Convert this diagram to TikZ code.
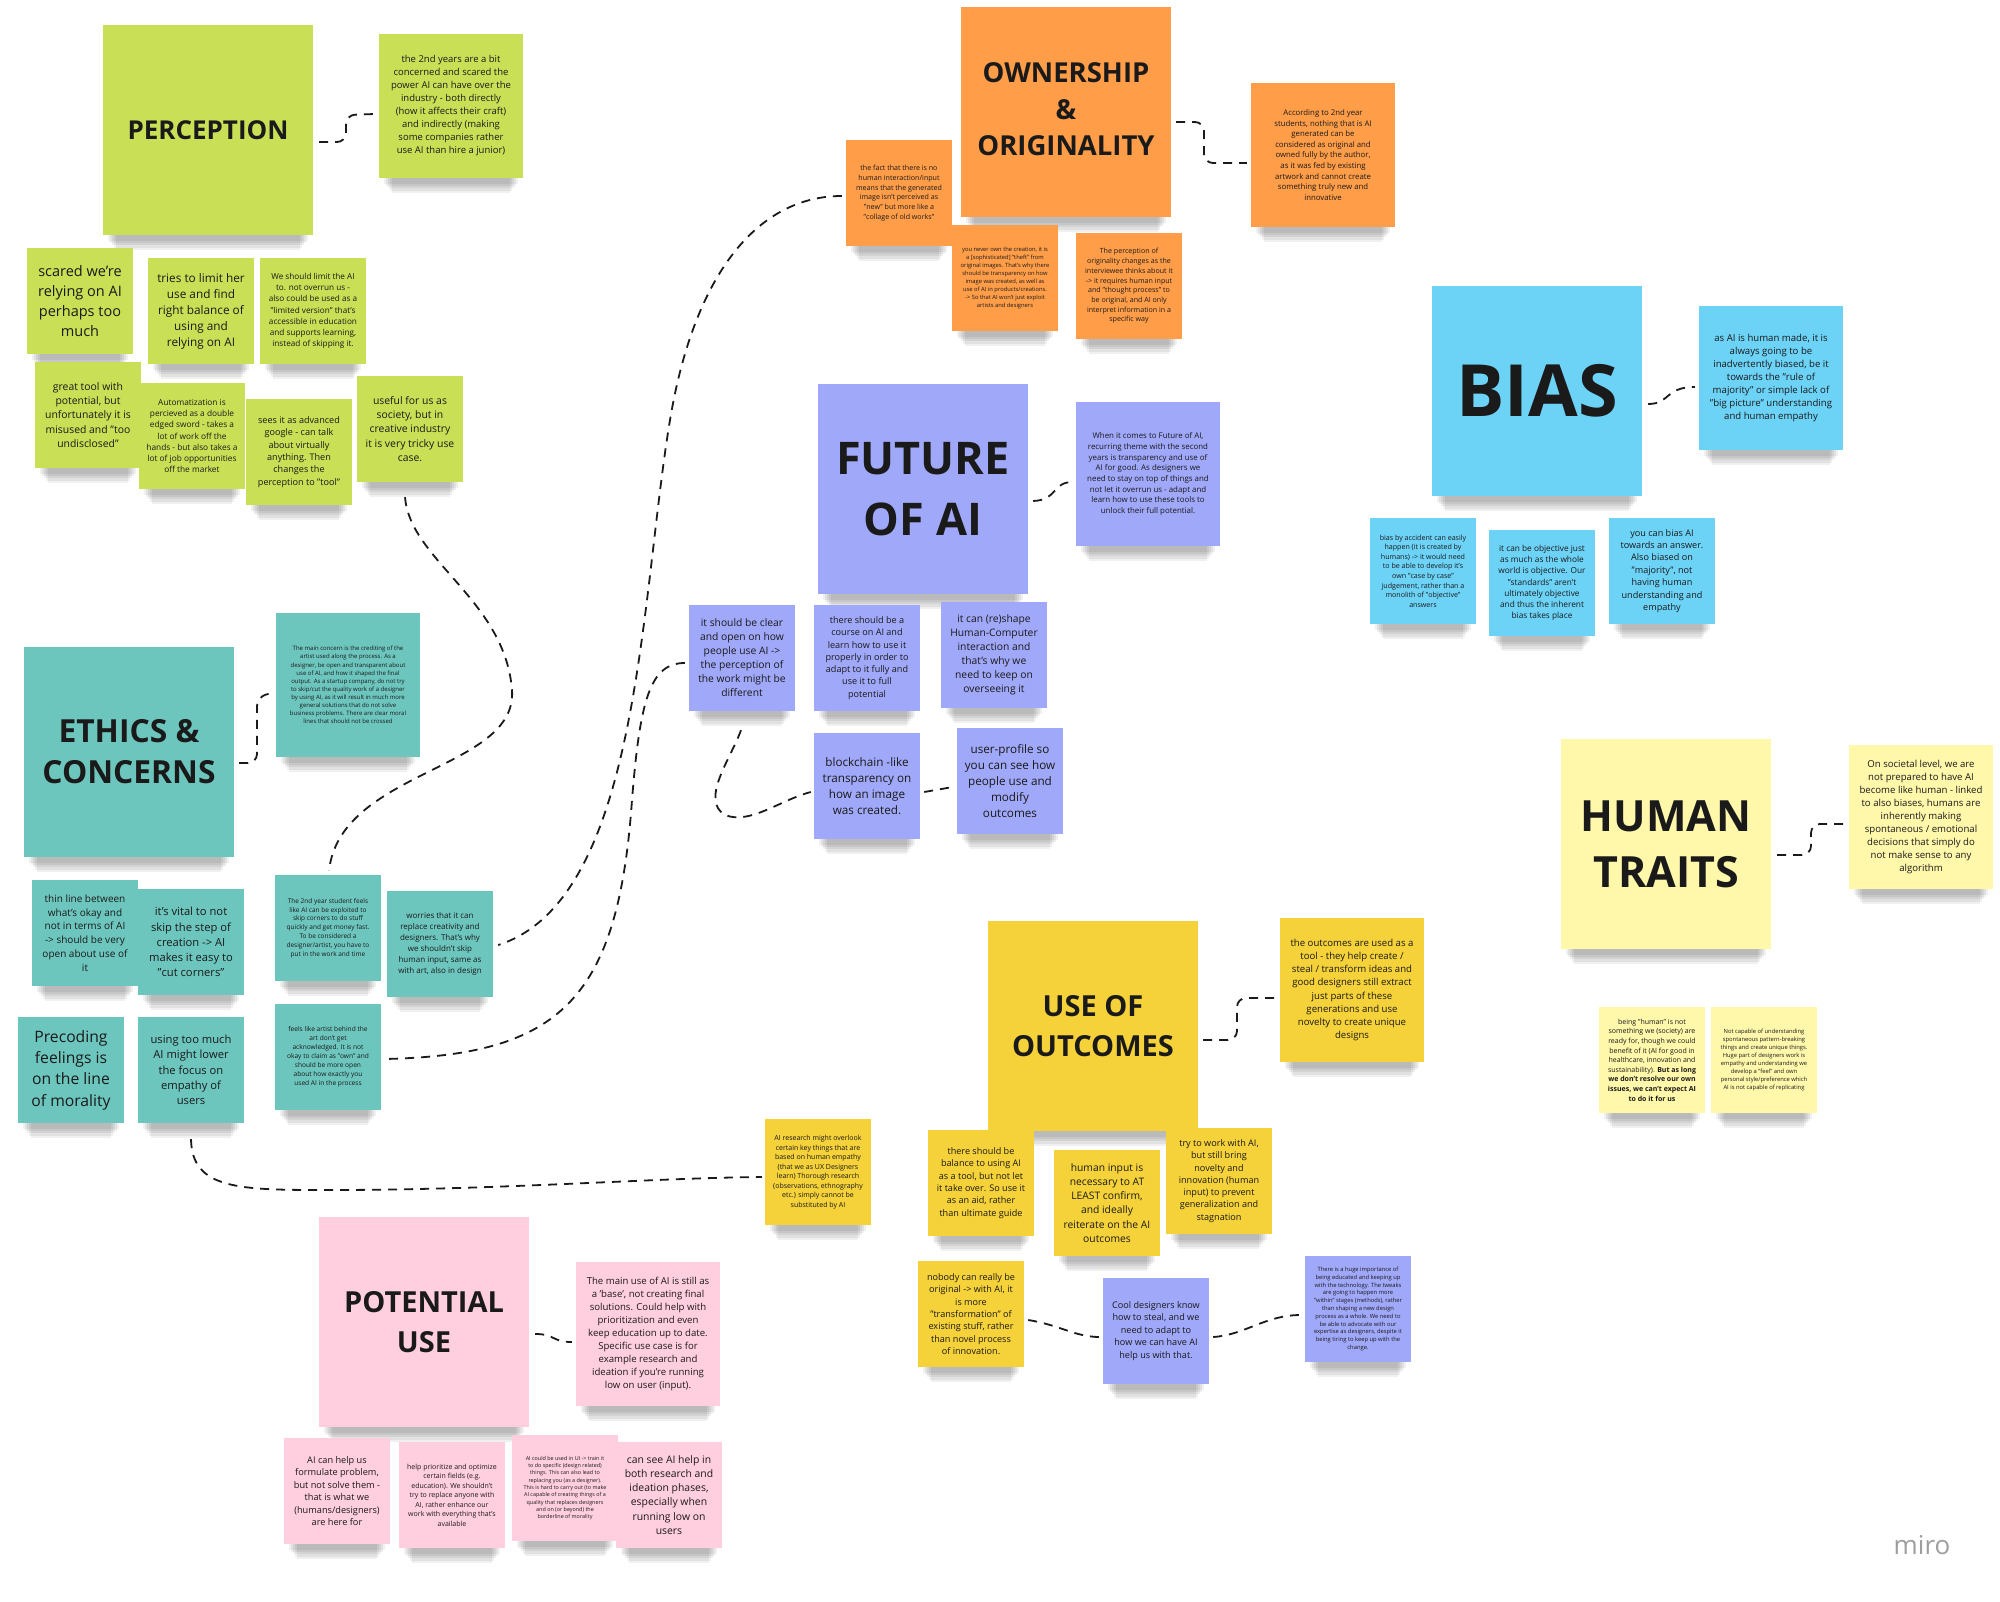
\documentclass[tikz,border=0pt]{standalone}
\usepackage{fontspec}
\setmainfont{Open Sans}
\usetikzlibrary{calc}
\definecolor{ink}{HTML}{1A1A1A}
\definecolor{clime}{HTML}{C9DF56}
\definecolor{cteal}{HTML}{6DC6BE}
\definecolor{corange}{HTML}{FF9D48}
\definecolor{cperi}{HTML}{A0A8F9}
\definecolor{ccyan}{HTML}{6CD2F6}
\definecolor{clyellow}{HTML}{FFF7AA}
\definecolor{cyellow}{HTML}{F5D13A}
\definecolor{cpink}{HTML}{FFCEDF}
\newcommand{\setfs}[2]{\fontsize{#1}{#2}\selectfont}
\pgfdeclarelayer{shadowlayer}
\pgfsetlayers{shadowlayer,main}
\begin{document}
\begin{tikzpicture}[x=1pt,y=-1pt,
  note/.style={fill=#1, inner sep=0pt, align=center, text=ink},
  hnote/.style={minimum width=210pt, minimum height=210pt},
  mnote/.style={minimum width=144pt, minimum height=144pt},
  snote/.style={minimum width=106pt, minimum height=106pt},
  conn/.style={draw=ink, line width=1.8pt, dash pattern=on 9pt off 7pt},
  stepconn/.style={conn, rounded corners=9pt},
]
\begin{pgfonlayer}{shadowlayer}
\fill[white] (0,0) rectangle (2000,1602);
\end{pgfonlayer}
\useasboundingbox (0,0) rectangle (2000,1602);

% ---------------- PERCEPTION ----------------
\node[note=clime, hnote, font={\bfseries\setfs{26}{34}}] (phead) at (208,130) {PERCEPTION};
\node[note=clime, mnote, font={\setfs{9.5}{13}}] (pdesc) at (451,106) {the 2nd years are a bit\\concerned and scared the\\power AI can have over the\\industry - both directly\\(how it affects their craft)\\and indirectly (making\\some companies rather\\use AI than hire a junior)};
\node[note=clime, snote, font={\setfs{14.5}{20}}] (pa) at (80,301) {scared we're\\relying on AI\\perhaps too\\much};
\node[note=clime, snote, font={\setfs{11.8}{16}}] (pb) at (201,311) {tries to limit her\\use and find\\right balance of\\using and\\relying on AI};
\node[note=clime, snote, font={\setfs{8.2}{11.2}}] (pc) at (313,311) {We should limit the AI\\to. not overrun us -\\also could be used as a\\"limited version" that's\\accessible in education\\and supports learning,\\instead of skipping it.};
\node[note=clime, snote, font={\setfs{10.4}{14.2}}] (pd) at (88,415) {great tool with\\potential, but\\unfortunately it is\\misused and "too\\undisclosed"};
\node[note=clime, snote, font={\setfs{8.3}{11.3}}] (pe) at (192,436) {Automatization is\\percieved as a double\\edged sword - takes a\\lot of work off the\\hands - but also takes a\\lot of job opportunities\\off the market};
\node[note=clime, snote, font={\setfs{9.1}{12.3}}] (pf) at (299,452) {sees it as advanced\\google - can talk\\about virtually\\anything. Then\\changes the\\perception to "tool"};
\node[note=clime, snote, font={\setfs{10.4}{14.2}}] (pg) at (410,429) {useful for us as\\society, but in\\creative industry\\it is very tricky use\\case.};

% ---------------- ETHICS ----------------
\node[note=cteal, hnote, font={\bfseries\setfs{31.8}{41}}] (ehead) at (129,752) {ETHICS \&\\CONCERNS};
\node[note=cteal, mnote, font={\setfs{6}{8.1}}] (edesc) at (348,685) {The main concern is the crediting of the\\artist used along the process. As a\\designer, be open and transparent about\\use of AI, and how it shaped the final\\output. As a startup company, do not try\\to skip/cut the quality work of a designer\\by using AI, as it will result in much more\\general solutions that do not solve\\business problems. There are clear moral\\lines that should not be crossed};
\node[note=cteal, snote, font={\setfs{10}{13.7}}] (ea) at (85,933) {thin line between\\what's okay and\\not in terms of AI\\-> should be very\\open about use of\\it};
\node[note=cteal, snote, font={\setfs{11.2}{15.2}}] (eb) at (191,942) {it's vital to not\\skip the step of\\creation -> AI\\makes it easy to\\"cut corners"};
\node[note=cteal, snote, font={\setfs{6.5}{8.8}}] (ec) at (328,928) {The 2nd year student feels\\like AI can be exploited to\\skip corners to do stuff\\quickly and get money fast.\\To be considered a\\designer/artist, you have to\\put in the work and time};
\node[note=cteal, snote, font={\setfs{8}{10.9}}] (ed) at (440,944) {worries that it can\\replace creativity and\\designers. That's why\\we shouldn't skip\\human input, same as\\with art, also in design};
\node[note=cteal, snote, font={\setfs{15.7}{21.3}}] (ee) at (71,1070) {Precoding\\feelings is\\on the line\\of morality};
\node[note=cteal, snote, font={\setfs{11.2}{15.3}}] (ef) at (191,1070) {using too much\\AI might lower\\the focus on\\empathy of\\users};
\node[note=cteal, snote, font={\setfs{6.6}{9}}] (eg) at (328,1057) {feels like artist behind the\\art don't get\\acknowledged. It is not\\okay to claim as "own" and\\should be more open\\about how exactly you\\used AI in the process};

% ---------------- OWNERSHIP ----------------
\node[note=corange, hnote, font={\bfseries\setfs{27.5}{36.5}}] (ohead) at (1066,112) {\raisebox{4pt}{\begin{tabular}{@{}c@{}}OWNERSHIP\\\&\\ORIGINALITY\end{tabular}}};
\node[note=corange, mnote, font={\setfs{7.8}{10.6}}] (odesc) at (1323,155) {According to 2nd year\\students, nothing that is AI\\generated can be\\considered as original and\\owned fully by the author,\\as it was fed by existing\\artwork and cannot create\\something truly new and\\innovative};
\node[note=corange, snote, font={\setfs{7.1}{9.7}}] (oa) at (899,193) {the fact that there is no\\human interaction/input\\means that the generated\\image isn't perceived as\\"new" but more like a\\"collage of old works"};
\node[note=corange, snote, font={\setfs{5.8}{7.9}}] (ob) at (1005,278) {you never own the creation, it is\\a [sophisticated] "theft" from\\original images. That's why there\\should be transparency on how\\image was created, as well as\\use of AI in products/creations.\\-> So that AI won't just exploit\\artists and designers};
\node[note=corange, snote, font={\setfs{7.1}{9.7}}] (oc) at (1129,286) {The perception of\\originality changes as the\\interviewee thinks about it\\-> it requires human input\\and "thought process" to\\be original, and AI only\\interpret information in a\\specific way};

% ---------------- FUTURE OF AI ----------------
\node[note=cperi, hnote, font={\bfseries\setfs{45}{61}}] (fhead) at (923,489) {FUTURE\\OF AI};
\node[note=cperi, mnote, font={\setfs{7.9}{10.7}}] (fdesc) at (1148,474) {When it comes to Future of AI,\\recurring theme with the second\\years is transparency and use of\\AI for good. As designers we\\need to stay on top of things and\\not let it overrun us - adapt and\\learn how to use these tools to\\unlock their full potential.};
\node[note=cperi, snote, font={\setfs{10.3}{14}}] (fa) at (742,658) {it should be clear\\and open on how\\people use AI ->\\the perception of\\the work might be\\different};
\node[note=cperi, snote, font={\setfs{9.1}{12.3}}] (fb) at (867,658) {there should be a\\course on AI and\\learn how to use it\\properly in order to\\adapt to it fully and\\use it to full\\potential};
\node[note=cperi, snote, font={\setfs{10.3}{14}}] (fc) at (994,655) {it can (re)shape\\Human-Computer\\interaction and\\that's why we\\need to keep on\\overseeing it};
\node[note=cperi, snote, font={\setfs{11.7}{15.9}}] (fd) at (867,786) {blockchain -like\\transparency on\\how an image\\was created.};
\node[note=cperi, snote, font={\setfs{11.7}{15.8}}] (fe) at (1010,781) {user-profile so\\you can see how\\people use and\\modify\\outcomes};

% ---------------- BIAS ----------------
\node[note=ccyan, hnote, font={\bfseries\setfs{72}{80}}] (bhead) at (1537,391) {BIAS};
\node[note=ccyan, mnote, font={\setfs{9.6}{13.1}}] (bdesc) at (1771,378) {as AI is human made, it is\\always going to be\\inadvertently biased, be it\\towards the "rule of\\majority" or simple lack of\\"big picture" understanding\\and human empathy};
\node[note=ccyan, snote, font={\setfs{7.1}{9.6}}] (ba) at (1423,571) {bias by accident can easily\\happen (it is created by\\humans) -> it would need\\to be able to develop it's\\own "case by case"\\judgement, rather than a\\monolith of "objective"\\answers};
\node[note=ccyan, snote, font={\setfs{8.3}{11.2}}] (bb) at (1542,583) {it can be objective just\\as much as the whole\\world is objective. Our\\"standards" aren't\\ultimately objective\\and thus the inherent\\bias takes place};
\node[note=ccyan, snote, font={\setfs{9.1}{12.4}}] (bc) at (1662,571) {you can bias AI\\towards an answer.\\Also biased on\\"majority", not\\having human\\understanding and\\empathy};

% ---------------- HUMAN TRAITS ----------------
\node[note=clyellow, hnote, font={\bfseries\setfs{43}{56}}] (hhead) at (1666,844) {HUMAN\\TRAITS};
\node[note=clyellow, mnote, font={\setfs{9.6}{13}}] (hdesc) at (1921,817) {On societal level, we are\\not prepared to have AI\\become like human - linked\\to also biases, humans are\\inherently making\\spontaneous / emotional\\decisions that simply do\\not make sense to any\\algorithm};
\node[note=clyellow, snote, font={\setfs{7}{9.6}}] (ha) at (1652,1060) {being "human" is not\\something we (society) are\\ready for, though we could\\benefit of it (AI for good in\\healthcare, innovation and\\sustainability). \textbf{But as long}\\\textbf{we don't resolve our own}\\\textbf{issues, we can't expect AI}\\\textbf{to do it for us}};
\node[note=clyellow, snote, font={\setfs{5.8}{7.9}}] (hb) at (1764,1060) {Not capable of understanding\\spontaneous pattern-breaking\\things and create unique things.\\Huge part of designers work is\\empathy and understanding we\\develop a "feel" and own\\personal style/preference which\\AI is not capable of replicating};

% ---------------- USE OF OUTCOMES ----------------
\node[note=cyellow, hnote, font={\bfseries\setfs{29}{40}}] (uhead) at (1093,1026) {USE OF\\OUTCOMES};
\node[note=cyellow, mnote, font={\setfs{9.6}{13.1}}] (udesc) at (1352,990) {the outcomes are used as a\\tool - they help create /\\steal / transform ideas and\\good designers still extract\\just parts of these\\generations and use\\novelty to create unique\\designs};
\node[note=cyellow, snote, font={\setfs{7}{9.5}}] (ur) at (818,1172) {AI research might overlook\\certain key things that are\\based on human empathy\\(that we as UX Designers\\learn) Thorough research\\(observations, ethnography\\etc.) simply cannot be\\substituted by AI};
\node[note=cyellow, snote, font={\setfs{9.1}{12.4}}] (ua) at (981,1183) {there should be\\balance to using AI\\as a tool, but not let\\it take over. So use it\\as an aid, rather\\than ultimate guide};
\node[note=cyellow, snote, font={\setfs{10.3}{14.1}}] (ub) at (1107,1203) {human input is\\necessary to AT\\LEAST confirm,\\and ideally\\reiterate on the AI\\outcomes};
\node[note=cyellow, snote, font={\setfs{9.1}{12.3}}] (uc) at (1219,1181) {try to work with AI,\\but still bring\\novelty and\\innovation (human\\input) to prevent\\generalization and\\stagnation};
\node[note=cyellow, snote, font={\setfs{9.1}{12.3}}] (ud) at (971,1314) {nobody can really be\\original -> with AI, it\\is more\\"transformation" of\\existing stuff, rather\\than novel process\\of innovation.};
\node[note=cperi, snote, font={\setfs{9.1}{12.4}}] (ue) at (1156,1331) {Cool designers know\\how to steal, and we\\need to adapt to\\how we can have AI\\help us with that.};
\node[note=cperi, snote, font={\setfs{5.8}{7.8}}] (uf) at (1358,1309) {There is a huge importance of\\being educated and keeping up\\with the technology. The tweaks\\are going to happen more\\"within" stages (methods), rather\\than shaping a new design\\process as a whole. We need to\\be able to advocate with our\\expertise as designers, despite it\\being tiring to keep up with the\\change.};

% ---------------- POTENTIAL USE ----------------
\node[note=cpink, hnote, font={\bfseries\setfs{29}{40}}] (qhead) at (424,1322) {POTENTIAL\\USE};
\node[note=cpink, mnote, font={\setfs{9.6}{13}}] (qdesc) at (648,1334) {The main use of AI is still as\\a 'base', not creating final\\solutions. Could help with\\prioritization and even\\keep education up to date.\\Specific use case is for\\example research and\\ideation if you're running\\low on user (input).};
\node[note=cpink, snote, font={\setfs{9.2}{12.5}}] (qa) at (337,1491) {AI can help us\\formulate problem,\\but not solve them -\\that is what we\\(humans/designers)\\are here for};
\node[note=cpink, snote, font={\setfs{7}{9.5}}] (qb) at (452,1495) {help prioritize and optimize\\certain fields (e.g.\\education). We shouldn't\\try to replace anyone with\\AI, rather enhance our\\work with everything that's\\available};
\node[note=cpink, snote, font={\setfs{5.4}{7.3}}] (qc) at (565,1488) {AI could be used in UI -> train it\\to do specific (design related)\\things. This can also lead to\\replacing you (as a designer).\\This is hard to carry out (to make\\AI capable of creating things of a\\quality that replaces designers\\and on (or beyond) the\\borderline of morality};
\node[note=cpink, snote, font={\setfs{10.4}{14.1}}] (qd) at (669,1495) {can see AI help in\\both research and\\ideation phases,\\especially when\\running low on\\users};

% watermark
\node[text=black!38, font={\setfs{26}{30}}] (miro) at (1922,1545) {miro};

% ---------------- shadows ----------------
\begin{pgfonlayer}{shadowlayer}
\foreach \n in {phead,pdesc,pa,pb,pc,pd,pe,pf,pg,ehead,edesc,ea,eb,ec,ed,ee,ef,eg,ohead,odesc,oa,ob,oc,fhead,fdesc,fa,fb,fc,fd,fe,bhead,bdesc,ba,bb,bc,hhead,hdesc,ha,hb,uhead,udesc,ur,ua,ub,uc,ud,ue,uf,qhead,qdesc,qa,qb,qc,qd} {
  \foreach \k in {1,...,5} {
    \fill[black,opacity=0.06] ($(\n.south west)+(3+2*\k,-40)$) rectangle ($(\n.south east)+(-3-2*\k,3+2.4*\k)$);
  }
}
\end{pgfonlayer}

% ---------------- short connectors ----------------
\draw[stepconn] ($(phead.east)+(6,12)$) -- (346,142) -- (346,115) -- ($(pdesc.west)+(-4,8)$);
\draw[stepconn] ($(ehead.east)+(5,11)$) -- (257,763) -- (257,697) -- ($(edesc.west)+(-4,8)$);
\draw[stepconn] ($(ohead.east)+(5,10)$) -- (1204,122) -- (1204,163) -- ($(odesc.west)+(-4,8)$);
\draw[conn] ($(fhead.east)+(5,12)$) .. controls (1058,500) and (1052,482) .. ($(fdesc.west)+(-3,8)$);
\draw[conn] ($(bhead.east)+(6,13)$) .. controls (1670,404) and (1665,387) .. ($(bdesc.west)+(-4,9)$);
\draw[stepconn] ($(hhead.east)+(6,11)$) -- (1811,855) -- (1811,824) -- ($(hdesc.west)+(-5,7)$);
\draw[stepconn] ($(uhead.east)+(5,14)$) -- (1237,1040) -- (1237,998) -- ($(udesc.west)+(-4,8)$);
\draw[conn] ($(qhead.east)+(6,12)$) .. controls (555,1334) and (552,1342) .. ($(qdesc.west)+(-4,8)$);
\draw[conn] ($(ud.east)+(4,6)$) .. controls (1060,1325) and (1075,1337) .. ($(ue.west)+(-3,6)$);
\draw[conn] ($(ue.east)+(4,6)$) .. controls (1245,1335) and (1265,1315) .. ($(uf.west)+(-4,6)$);
\draw[conn] ($(fd.east)+(4,6)$) -- ($(fe.west)+(-4,6)$);
\draw[conn] ($(fa.south)+(-1,19)$) .. controls (730,760) and (700,800) .. (725,815) .. controls (750,825) and (780,800) .. ($(fd.west)+(-3,6)$);

% ---------------- long connectors ----------------
\draw[conn] ($(pg.south)+(-5,15)$) .. controls (410,560) and (505,600) .. (512,690) .. controls (518,770) and (340,770) .. ($(ec.north)+(1,-4)$);
\draw[conn] ($(oa.west)+(-4,3)$) .. controls (760,196) and (695,270) .. (670,420) .. controls (640,600) and (640,900) .. ($(ed.east)+(5,1)$);
\draw[conn] ($(fa.west)+(-4,5)$) .. controls (650,663) and (640,700) .. (632,800) .. controls (618,1000) and (560,1055) .. ($(eg.east)+(4,2)$);
\draw[conn] ($(ef.south)+(0,16)$) .. controls (192,1190) and (240,1190) .. (330,1190) .. controls (500,1190) and (650,1178) .. ($(ur.west)+(-3,5)$);
\end{tikzpicture}
\end{document}
